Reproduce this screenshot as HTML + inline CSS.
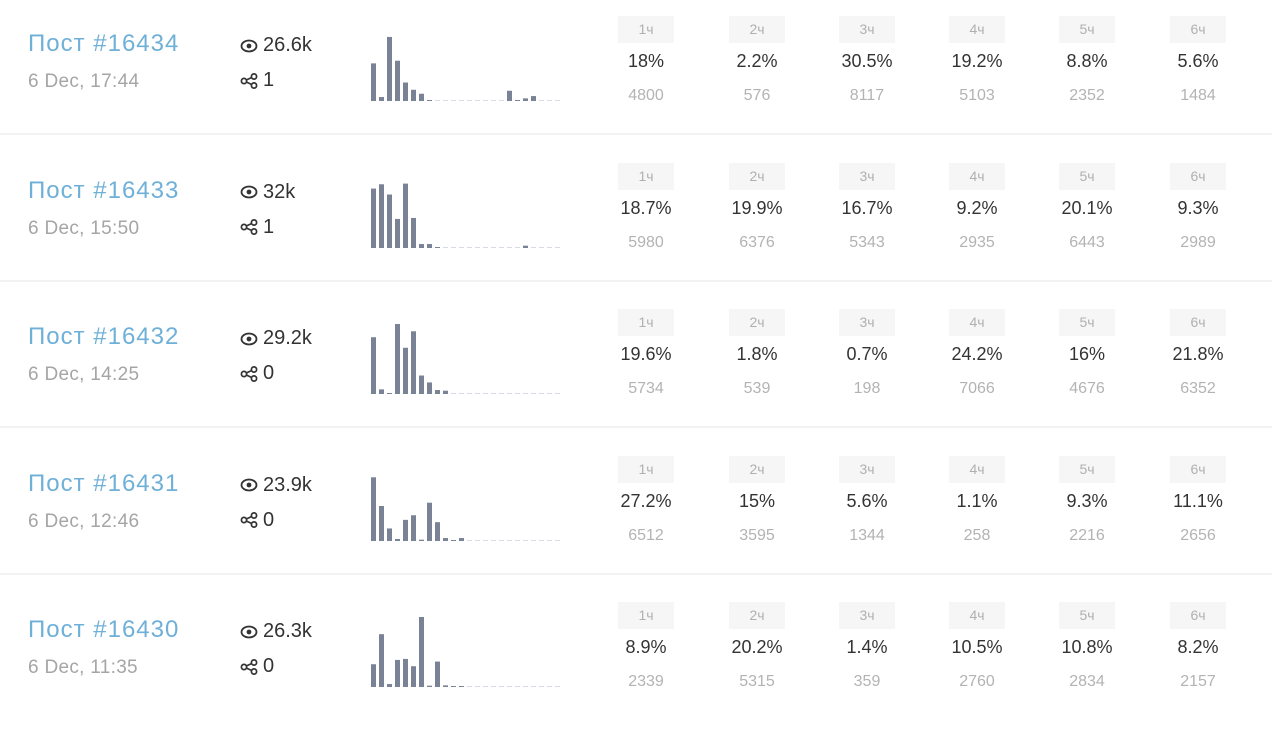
<!DOCTYPE html>
<html><head><meta charset="utf-8">
<style>
body{margin:0;width:1278px;height:716px;background:#fff;overflow:hidden;font-family:"Liberation Sans","DejaVu Sans",sans-serif;position:relative}
.row{position:absolute;left:0;width:1278px;height:146px}
.sep{position:absolute;left:0;width:1272px;height:2px;background:#f2f2f4}
.title{position:absolute;left:28px;top:30px;font-size:24px;color:#6fb0d8;white-space:nowrap;letter-spacing:1px}
.date{position:absolute;left:28px;top:71px;font-size:19px;color:#a5a5a5;white-space:nowrap;letter-spacing:0.3px}
.stat{position:absolute;left:240px;font-size:20px;color:#333;white-space:nowrap;display:flex;align-items:center;gap:5px}
.col{position:absolute;width:110px;text-align:center}
.pill{margin:0 auto;width:56px;height:27px;background:#f6f6f7;color:#b0b0b0;font-size:14px;line-height:27px}
.pct{font-size:18px;color:#333;margin-top:8px;height:24px}
.cnt{font-size:16px;color:#b3b3b3;margin-top:12px}
svg.spark{position:absolute;left:368px;top:0}
</style></head><body>
<div id="root"></div>
<script>
const posts=['Пост #16434','Пост #16433','Пост #16432','Пост #16431','Пост #16430'];
const dates=['6 Dec, 17:44','6 Dec, 15:50','6 Dec, 14:25','6 Dec, 12:46','6 Dec, 11:35'];
const views=['26.6k','32k','29.2k','23.9k','26.3k'];
const shares=['1','1','0','0','0'];
const hours=['1ч','2ч','3ч','4ч','5ч','6ч'];
const pcts=[
['18%','2.2%','30.5%','19.2%','8.8%','5.6%'],
['18.7%','19.9%','16.7%','9.2%','20.1%','9.3%'],
['19.6%','1.8%','0.7%','24.2%','16%','21.8%'],
['27.2%','15%','5.6%','1.1%','9.3%','11.1%'],
['8.9%','20.2%','1.4%','10.5%','10.8%','8.2%']];
const counts=[
['4800','576','8117','5103','2352','1484'],
['5980','6376','5343','2935','6443','2989'],
['5734','539','198','7066','4676','6352'],
['6512','3595','1344','258','2216','2656'],
['2339','5315','359','2760','2834','2157']];
const spark0=[114,12,194,122,56,34,22,2,1,1,1,1,1,1,1,1,1,31,2,8,15,1,1,1];
const spark1=[180,193,162,88,195,91,12,12,2,1,1,1,1,1,1,1,1,1,1,7,1,1,1,1];
const spark2=[172,14,3,212,140,190,56,35,12,10,1,1,1,1,1,1,1,1,1,1,1,1,1,1];
const spark3=[193,106,38,6,64,78,4,116,57,9,2,9,1,1,1,1,1,1,1,1,1,1,1,1];
const spark4=[69,160,9,82,85,63,212,4,77,5,2,2,1,1,1,1,1,1,1,1,1,1,1,1];
const sparks=[spark0,spark1,spark2,spark3,spark4];
const colX=[591,702,812,922,1032,1143];
const root=document.getElementById('root');
const NS='http://www.w3.org/2000/svg';
const eye='<svg width="18" height="14" viewBox="0 0 18 14"><ellipse cx="9" cy="7" rx="7.5" ry="5.5" fill="none" stroke="#333" stroke-width="1.8"/><circle cx="9" cy="7" r="2.4" fill="#333"/></svg>';
const share='<svg width="18" height="16" viewBox="0 0 18 16"><circle cx="4" cy="8" r="2.6" fill="none" stroke="#333" stroke-width="1.7"/><circle cx="14" cy="3.5" r="2.6" fill="none" stroke="#333" stroke-width="1.7"/><circle cx="14" cy="12.5" r="2.6" fill="none" stroke="#333" stroke-width="1.7"/><line x1="6.3" y1="7" x2="11.7" y2="4.5" stroke="#333" stroke-width="1.7"/><line x1="6.3" y1="9" x2="11.7" y2="11.5" stroke="#333" stroke-width="1.7"/></svg>';
const maxV=212, maxH=70, base=101;
function yScale(v){return v/maxV*maxH;}
function xScale(i){return 3+i*8;}
posts.forEach((p,r)=>{
  const row=document.createElement('div');row.className='row';row.style.top=(r*146.5)+'px';
  
  
  const t=document.createElement('div');t.className='title';t.textContent=p;
  
  
  const d=document.createElement('div');d.className='date';d.textContent=dates[r];
  
  
  const v=document.createElement('div');v.className='stat';v.style.top='34px';v.innerHTML=eye+'<span>'+views[r]+'</span>';
  
  
  const s=document.createElement('div');s.className='stat';s.style.top='69px';s.innerHTML=share+'<span>'+shares[r]+'</span>';
  
  
  row.append(t,d,v,s);
  const svg=document.createElementNS(NS,'svg');svg.setAttribute('class','spark');svg.setAttribute('width','200');svg.setAttribute('height','110');
  
  
  sparks[r].forEach((val,i)=>{
    const h=Math.max(1,yScale(val));
    const b=document.createElementNS(NS,'rect');
    b.setAttribute('x',xScale(i));b.setAttribute('y',base-h);b.setAttribute('width',5);b.setAttribute('height',h);
    b.setAttribute('fill',val<=1?'#d8dbe2':'#7a8396');
    
    
    svg.appendChild(b);
  });
  row.appendChild(svg);
  hours.forEach((h,c)=>{
    const col=document.createElement('div');col.className='col';col.style.left=colX[c]+'px';col.style.top='16px';
    
    
    col.innerHTML='<div class="pill">'+h+'</div><div class="pct">'+pcts[r][c]+'</div><div class="cnt">'+counts[r][c]+'</div>';
    row.appendChild(col);
  });
  root.appendChild(row);
  if(r<4){const sp=document.createElement('div');sp.className='sep';sp.style.top=(133+r*146.5)+'px';
    
    
    root.appendChild(sp);}
});
</script>
</body></html>
